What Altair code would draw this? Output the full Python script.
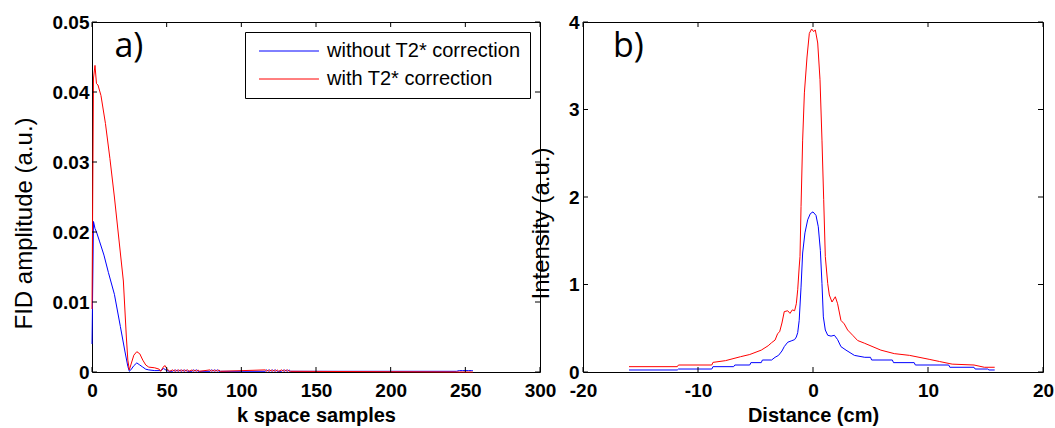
import altair as alt
import pandas as pd

# ---------------- panel a): FID magnitude vs k-space sample ----------------
series_names = ["without T2* correction", "with T2* correction"]
series_colors = ["#0000ff", "#ff0000"]

fid_head_k_blue = [0, 1, 2, 3, 5, 8, 11, 15, 19, 22, 24, 25, 26, 28, 30, 32, 34, 36, 38, 42, 46, 48, 50]
fid_head_v_blue = [0.0040, 0.0215, 0.0205, 0.0200, 0.0187, 0.0167, 0.0142, 0.0111, 0.0065, 0.0030,
                   0.0008, 0.0001, 0.0003, 0.0009, 0.0013, 0.0010, 0.0007, 0.0004, 0.0003, 0.0002,
                   0.0002, 0.0005, 0.0002]

fid_head_k_red = [0, 1, 2, 3, 4, 6, 9, 12, 15, 18, 21, 23, 24, 25, 26, 28, 30, 32, 34, 36, 38, 42, 45,
                  46, 48, 49, 50]
fid_head_v_red = [0.0090, 0.0420, 0.0438, 0.0412, 0.0410, 0.0395, 0.0355, 0.0305, 0.0250, 0.0190,
                  0.0130, 0.0050, 0.0017, 0.0003, 0.0010, 0.0024, 0.0029, 0.0026, 0.0017, 0.0010,
                  0.0007, 0.0006, 0.0004, 0.0001, 0.0008, 0.0009, 0.0005]

fid_tail_k = [52, 54, 55, 56, 57, 58, 59, 60, 61, 62, 63, 64, 65, 67, 68, 69, 70, 71, 72,
              79, 80, 81, 82, 83, 84, 85, 86, 116, 117, 118, 119, 120, 121, 122, 123, 124, 125,
              127, 128, 129, 130, 131, 132, 133, 244, 246, 248, 250, 252, 254, 255]
fid_tail_v_blue = [0.0001, 0.0001, 0.0003, 0.0001, 0.0003, 0.0001, 0.0003, 0.0001, 0.0003, 0.0001,
                   0.0003, 0.0001, 0.0001, 0.0001, 0.0003, 0.0001, 0.0003, 0.0001, 0.0001,
                   0.0001, 0.0003, 0.0001, 0.0003, 0.0001, 0.0003, 0.0001, 0.0001,
                   0.0001, 0.0003, 0.0001, 0.0003, 0.0001, 0.0003, 0.0001, 0.0003, 0.0001, 0.0001,
                   0.0001, 0.0003, 0.0001, 0.0003, 0.0001, 0.0003, 0.0001,
                   0.0001, 0.0002, 0.0002, 0.0002, 0.0002, 0.0002, 0.0002]
fid_tail_v_red = [0.0001, 0.0003, 0.0001, 0.0003, 0.0001, 0.0003, 0.0001, 0.0003, 0.0001, 0.0003,
                  0.0001, 0.0003, 0.0001, 0.0003, 0.0001, 0.0003, 0.0001, 0.0003, 0.0001,
                  0.0003, 0.0001, 0.0003, 0.0001, 0.0003, 0.0001, 0.0003, 0.0001,
                  0.0003, 0.0001, 0.0003, 0.0001, 0.0003, 0.0001, 0.0003, 0.0001, 0.0003, 0.0001,
                  0.0003, 0.0001, 0.0003, 0.0001, 0.0003, 0.0001, 0.0001,
                  0.0000, 0.0000, 0.0000, 0.0000, 0.0000, 0.0000, 0.0000]

fid_x_ticks = [0, 50, 100, 150, 200, 250, 300]
fid_y_ticks = [0, 0.01, 0.02, 0.03, 0.04, 0.05]

# ---------------- panel b): reconstructed profile vs distance ----------------
prof_x_blue = [-16.0, -11.8, -11.7, -8.8, -8.7, -6.9, -6.8, -5.5, -5.4, -4.5, -4.4, -3.6, -3.3, -3.0,
               -2.7, -2.5, -2.2, -1.9, -1.6, -1.45, -1.33, -1.2, -1.04, -0.9, -0.7, -0.46, -0.23,
               0.0, 0.26, 0.46, 0.64, 0.78, 0.9, 1.07, 1.28, 1.57, 1.86, 2.14, 2.43, 2.87, 3.6,
               4.5, 5.0, 5.1, 6.9, 7.0, 8.8, 8.9, 11.8, 11.9, 14.0, 14.1, 15.2, 15.3, 15.8]
prof_i_blue = [0.023, 0.023, 0.034, 0.034, 0.061, 0.061, 0.080, 0.080, 0.107, 0.107, 0.137, 0.137,
               0.168, 0.19, 0.24, 0.29, 0.34, 0.355, 0.37, 0.40, 0.45, 0.59, 0.97, 1.36, 1.59,
               1.74, 1.81, 1.83, 1.79, 1.66, 1.39, 1.01, 0.63, 0.48, 0.42, 0.41, 0.42, 0.37, 0.29,
               0.25, 0.19, 0.168, 0.168, 0.137, 0.137, 0.107, 0.107, 0.080, 0.080, 0.054, 0.054,
               0.034, 0.034, 0.023, 0.023]

prof_x_red = [-16.0, -11.8, -11.7, -8.8, -8.7, -7.6, -6.3, -5.5, -4.5, -3.9, -3.6, -3.3, -3.07, -2.9,
              -2.7, -2.5, -2.2, -2.0, -1.8, -1.6, -1.45, -1.33, -1.2, -1.13, -1.04, -0.9, -0.75,
              -0.52, -0.32, -0.12, 0.06, 0.2, 0.41, 0.61, 0.78, 0.93, 1.07, 1.28, 1.42, 1.65,
              1.94, 2.14, 2.43, 2.72, 3.01, 3.45, 3.88, 4.46, 5.9, 7.07, 8.4, 10.1, 11.0, 12.1,
              14.0, 14.9, 15.8]
prof_i_red = [0.061, 0.061, 0.080, 0.080, 0.11, 0.13, 0.175, 0.20, 0.25, 0.30, 0.335, 0.365, 0.44,
              0.46, 0.56, 0.69, 0.70, 0.67, 0.71, 0.70, 0.78, 0.94, 1.20, 1.32, 1.89, 2.65, 3.19,
              3.60, 3.87, 3.92, 3.89, 3.91, 3.76, 3.34, 2.65, 1.97, 1.32, 1.01, 0.88, 0.80, 0.86,
              0.78, 0.59, 0.55, 0.48, 0.42, 0.36, 0.33, 0.25, 0.21, 0.19, 0.145, 0.12, 0.09, 0.08,
              0.054, 0.054]

prof_x_ticks = [-20, -10, 0, 10, 20]
prof_y_ticks = [0, 1, 2, 3, 4]

panel_tags = ["a)", "b)"]

# ---------------- tables (blue rows first so the red trace is drawn on top) ----------------
fid = pd.concat([
    pd.DataFrame({"k": fid_head_k_blue + fid_tail_k, "amp": fid_head_v_blue + fid_tail_v_blue,
                  "series": series_names[0]}),
    pd.DataFrame({"k": fid_head_k_red + fid_tail_k, "amp": fid_head_v_red + fid_tail_v_red,
                  "series": series_names[1]}),
], ignore_index=True)
prof = pd.concat([
    pd.DataFrame({"d": prof_x_blue, "inten": prof_i_blue, "series": series_names[0]}),
    pd.DataFrame({"d": prof_x_red, "inten": prof_i_red, "series": series_names[1]}),
], ignore_index=True)

W1, W2, H = 448, 460, 350
TICK = 5
FONT = "Liberation Sans"

color_scale = alt.Scale(domain=series_names, range=series_colors)


def inner_ticks(xvals, yvals, x_enc, y_enc, width):
    """Inward-pointing tick marks on all four sides of a boxed panel."""
    xt = pd.DataFrame({x_enc.shorthand.split(":")[0]: xvals})
    yt = pd.DataFrame({y_enc.shorthand.split(":")[0]: yvals})
    rule = dict(color="black", strokeWidth=1)
    return [
        alt.Chart(xt).mark_rule(**rule).encode(x=x_enc, y=alt.value(H), y2=alt.value(H - TICK)),
        alt.Chart(xt).mark_rule(**rule).encode(x=x_enc, y=alt.value(0), y2=alt.value(TICK)),
        alt.Chart(yt).mark_rule(**rule).encode(y=y_enc, x=alt.value(0), x2=alt.value(TICK)),
        alt.Chart(yt).mark_rule(**rule).encode(y=y_enc, x=alt.value(width - TICK), x2=alt.value(width)),
    ]


# ---------------- panel a) ----------------
xs_a = alt.Scale(domain=[0, 300], nice=False, zero=False)
ys_a = alt.Scale(domain=[0, 0.05], nice=False)

x_axis_a = alt.Axis(values=fid_x_ticks, title="k space samples", format="d",
                    labelFlush=False, labelPadding=9, titleY=33, titleBaseline="top")
y_axis_a = alt.Axis(values=fid_y_ticks, title="FID amplitude (a.u.)", format=".2~f",
                    labelPadding=3, titleX=-68, titleY=201, titleBaseline="middle",
                    titleFontWeight="normal", titleFontSize=24)
x_a = alt.X("k:Q", scale=xs_a, axis=x_axis_a)
y_a = alt.Y("amp:Q", scale=ys_a, axis=y_axis_a)

legend_a = alt.Legend(
    title=None, orient="none", legendX=153, legendY=10,
    fillColor="white", strokeColor="black", padding=9, cornerRadius=0,
    symbolType="M-3.33,0H3.33", symbolSize=324, symbolStrokeWidth=1,
    symbolOffset=25, labelOffset=28, rowPadding=8, labelLimit=400,
    labelFont=FONT, labelFontSize=20, labelFontWeight="normal", labelColor="black",
)

lines_a = alt.Chart(fid).mark_line(strokeWidth=1).encode(
    x=x_a, y=y_a,
    color=alt.Color("series:N", scale=color_scale, legend=legend_a, sort=series_names),
)
tag_a = alt.Chart(pd.DataFrame({"k": [15], "amp": [0.045], "t": [panel_tags[0]]})).mark_text(
    font="Open Sans", fontSize=34, align="left", baseline="alphabetic", color="black"
).encode(x=x_a, y=y_a, text="t:N")

panel_a = alt.layer(
    lines_a, tag_a, *inner_ticks(fid_x_ticks, fid_y_ticks, x_a, y_a, W1)
).properties(width=W1, height=H)

# ---------------- panel b) ----------------
xs_b = alt.Scale(domain=[-20, 20], nice=False, zero=False)
ys_b = alt.Scale(domain=[0, 4], nice=False)

x_axis_b = alt.Axis(values=prof_x_ticks, title="Distance (cm)", labelExpr="datum.value + ''",
                    labelFlush=False, labelPadding=9, titleY=33, titleBaseline="top")
y_axis_b = alt.Axis(values=prof_y_ticks, title="Intensity (a.u.)", format="d",
                    labelPadding=4, titleX=-42, titleY=201, titleBaseline="middle",
                    titleFontWeight="normal", titleFontSize=24)
x_b = alt.X("d:Q", scale=xs_b, axis=x_axis_b)
y_b = alt.Y("inten:Q", scale=ys_b, axis=y_axis_b)

lines_b = alt.Chart(prof).mark_line(strokeWidth=1).encode(
    x=x_b, y=y_b,
    color=alt.Color("series:N", scale=color_scale, legend=None, sort=series_names),
)
tag_b = alt.Chart(pd.DataFrame({"d": [-17.4], "inten": [3.6], "t": [panel_tags[1]]})).mark_text(
    font="Open Sans", fontSize=34, align="left", baseline="alphabetic", color="black"
).encode(x=x_b, y=y_b, text="t:N")

panel_b = alt.layer(
    lines_b, tag_b, *inner_ticks(prof_x_ticks, prof_y_ticks, x_b, y_b, W2)
).properties(width=W2, height=H)

chart = (
    alt.hconcat(panel_a, panel_b, spacing=43, bounds="flush")
    .properties(
        padding={"left": 11, "top": 12, "right": 0, "bottom": 0},
        background="white",
    )
    .configure_view(stroke="black", strokeWidth=1)
    .configure_axis(
        grid=False, domain=False, ticks=False, tickSize=0,
        labelFont=FONT, labelFontSize=19, labelFontWeight="bold", labelColor="black",
        titleFont=FONT, titleFontSize=20, titleFontWeight="bold", titleColor="black",
    )
)

chart.save("out.html", embed_options={"renderer": "svg", "actions": False})
